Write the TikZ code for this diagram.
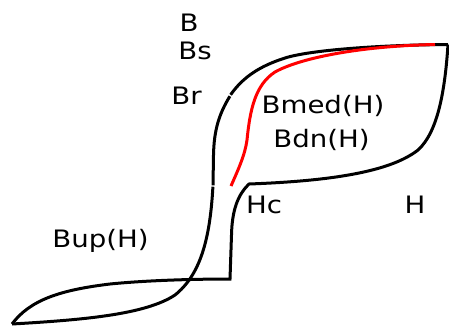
\documentclass[tikz,border=0pt]{standalone}
\usepackage{fontspec}
\setmainfont{DejaVu Sans}[FakeStretch=1.15]
\begin{document}
\begin{tikzpicture}[x=1pt,y=-1pt,
  curve/.style={line width=3pt,black},
  midcurve/.style={line width=3pt,red},
  lbl/.style={anchor=base,inner sep=0pt,font=\fontsize{24}{28}\selectfont}]
\useasboundingbox (0,0) rectangle (449,325);

% key points of the loop
\coordinate (tip)  at (448,44.5);
\coordinate (low)  at (12,324);

% descending branch, drawn in three pieces
\draw[curve] (tip) .. controls (380,45) and (310,50) .. (285,58)
  .. controls (260,66) and (243,77) .. (230.6,94.8);
\draw[curve] (229.9,96.2) .. controls (219,114) and (214,130) .. (213.5,155) -- (213,185.3);
\draw[curve] (212.9,186.7) .. controls (210,240) and (200,275) .. (175,295)
  .. controls (145,315) and (80,320) .. (low);

% ascending branch
\draw[curve] (low) .. controls (30,300) and (60,290) .. (110,284)
  .. controls (150,280) and (200,279) .. (230,279) -- (231.5,235)
  .. controls (232,210) and (238,195) .. (248,185) -- (249,184)
  .. controls (330,181) and (390,172) .. (418,150)
  .. controls (438,132) and (445,90) .. (tip);

% middle curve
\draw[midcurve] (435,44.5) .. controls (360,46) and (300,58) .. (275,72)
  .. controls (255,85) and (250,110) .. (247,140)
  .. controls (245,155) and (238,170) .. (231,186);

% labels
\node[lbl] (b)    at (189,31)    {B};
\node[lbl] (bs)   at (195,59.5)  {Bs};
\node[lbl] (br)   at (186.5,104) {Br};
\node[lbl] (bmed) at (323,113)   {Bmed(H)};
\node[lbl] (bdn)  at (321.5,147.5) {Bdn(H)};
\node[lbl] (hc)   at (264,213)   {Hc};
\node[lbl] (h)    at (415,213)   {H};
\node[lbl] (bup)  at (100.5,247) {Bup(H)};
\end{tikzpicture}
\end{document}
